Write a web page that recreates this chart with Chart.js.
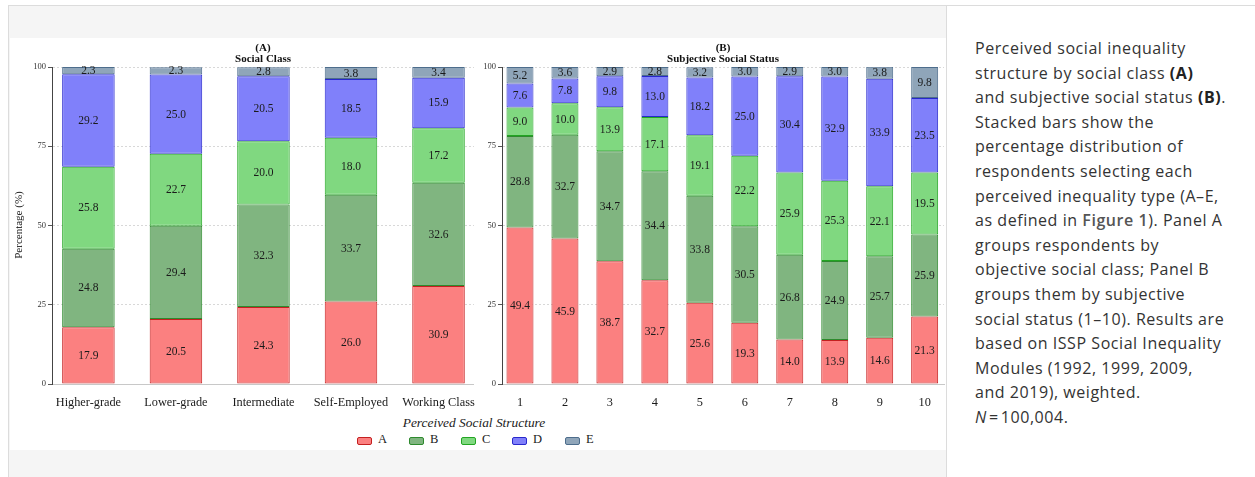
<!DOCTYPE html>
<html>
<head>
<meta charset="utf-8">
<script src="https://cdn.jsdelivr.net/npm/chart.js@4/dist/chart.umd.min.js"></script>
<style>
  html,body{margin:0;padding:0;background:#fff;width:1255px;height:477px;overflow:hidden;}
  .abs{position:absolute;}
  #frame{left:8px;top:5px;width:1247px;height:472px;border-top:1px solid #dcdcdc;border-left:1px solid #dcdcdc;box-sizing:border-box;}
  #fig{left:9px;top:6px;width:938px;height:471px;background:#f5f5f5;border-right:1px solid #dcdcdc;box-sizing:border-box;}
  #white{left:10px;top:38px;width:936px;height:412px;background:#fff;}
  .ptitle{font-family:'Liberation Serif',serif;font-weight:bold;font-size:11px;line-height:11px;text-align:center;color:#111;width:300px;}
  #ytitle{font-family:'Liberation Serif',serif;font-size:11px;color:#222;transform:rotate(-90deg);transform-origin:center center;width:120px;text-align:center;left:-42px;top:219px;}
  #ltitle{font-family:'Liberation Serif',serif;font-style:italic;font-size:13.4px;color:#222;left:324px;top:415px;width:300px;text-align:center;}
  .sw{position:absolute;width:13px;height:6px;border-radius:2px;top:437px;}
  .lt{position:absolute;font-family:'Liberation Serif',serif;font-size:12.5px;color:#222;top:432px;}
  #caption{left:975px;top:36px;width:280px;font-family:'Open Sans',sans-serif;font-size:16px;letter-spacing:0.55px;line-height:24.6px;color:#333;white-space:nowrap;}
  #caption b{font-weight:700;color:#222;}
  #caption .fig{font-weight:600;color:#555;}
</style>
</head>
<body>
<div id="frame" class="abs"></div>
<div id="fig" class="abs"></div>
<div id="white" class="abs"></div>
<canvas id="chartA" class="abs" width="468" height="372" style="left:10px;top:38px;width:468px;height:372px;"></canvas>
<canvas id="chartB" class="abs" width="468" height="372" style="left:478px;top:38px;width:468px;height:372px;"></canvas>
<div class="abs ptitle" style="left:113px;top:42px;">(A)<br>Social Class</div>
<div class="abs ptitle" style="left:573px;top:42px;">(B)<br>Subjective Social Status</div>
<div id="ytitle" class="abs">Percentage (%)</div>
<div id="ltitle" class="abs">Perceived Social Structure</div>
<div id="legend"></div>
<div id="caption" class="abs">Perceived social inequality<br>structure by social class <b>(A)</b><br>and subjective social status <b>(B)</b>.<br>Stacked bars show the<br>percentage distribution of<br>respondents selecting each<br>perceived inequality type (A–E,<br>as defined in <span class="fig">Figure 1</span>). Panel A<br>groups respondents by<br>objective social class; Panel B<br>groups them by subjective<br>social status (1–10). Results are<br>based on ISSP Social Inequality<br>Modules (1992, 1999, 2009,<br>and 2019), weighted.<br><i>N</i>&#8202;=&#8202;100,004.</div>
<script>
// ---- data ----
const seriesNames = ['A', 'B', 'C', 'D', 'E'];
const classCategories = ['Higher-grade', 'Lower-grade', 'Intermediate', 'Self-Employed', 'Working Class'];
const classA = [17.9, 20.5, 24.3, 26.0, 30.9];
const classB = [24.8, 29.4, 32.3, 33.7, 32.6];
const classC = [25.8, 22.7, 20.0, 18.0, 17.2];
const classD = [29.2, 25.0, 20.5, 18.5, 15.9];
const classE = [2.3, 2.3, 2.8, 3.8, 3.4];
const statusCategories = ['1', '2', '3', '4', '5', '6', '7', '8', '9', '10'];
const statusA = [49.4, 45.9, 38.7, 32.7, 25.6, 19.3, 14.0, 13.9, 14.6, 21.3];
const statusB = [28.8, 32.7, 34.7, 34.4, 33.8, 30.5, 26.8, 24.9, 25.7, 25.9];
const statusC = [9.0, 10.0, 13.9, 17.1, 19.1, 22.2, 25.9, 25.3, 22.1, 19.5];
const statusD = [7.6, 7.8, 9.8, 13.0, 18.2, 25.0, 30.4, 32.9, 33.9, 23.5];
const statusE = [5.2, 3.6, 2.9, 2.8, 3.2, 3.0, 2.9, 3.0, 3.8, 9.8];
const yTicks = [0, 25, 50, 75, 100];

// ---- styles ----
const fills = ['#fb8080', '#80b580', '#80d880', '#8080fa', '#8fa5b9'];
const borders = ['#c42020', '#2e8a2e', '#22a522', '#2828cc', '#4d6d8c'];
const legendX = [357, 409, 461, 512, 565];

// legend (HTML)
const lg = document.getElementById('legend');
seriesNames.forEach((n, k) => {
  const s = document.createElement('div');
  s.className = 'sw';
  s.style.left = legendX[k] + 'px';
  s.style.background = fills[k];
  s.style.border = '1px solid ' + borders[k];
  lg.appendChild(s);
  const t = document.createElement('div');
  t.className = 'lt';
  t.style.left = (legendX[k] + 21) + 'px';
  t.textContent = n;
  lg.appendChild(t);
});

const valueLabels = {
  id: 'valueLabels',
  afterDatasetsDraw(chart) {
    const ctx = chart.ctx;
    ctx.save();
    ctx.font = '11.5px "Liberation Serif", serif';
    ctx.fillStyle = '#1a1a1a';
    ctx.textAlign = 'center';
    ctx.textBaseline = 'middle';
    chart.data.datasets.forEach((ds, di) => {
      const meta = chart.getDatasetMeta(di);
      meta.data.forEach((el, i) => {
        const v = ds.data[i];
        const y = (el.y + el.base) / 2;
        ctx.fillText(v.toFixed(1), el.x, y + 0.5);
      });
    });
    ctx.restore();
  }
};

function makeChart(id, cats, series, xmin, xmax, yWidth, padRight) {
  return new Chart(document.getElementById(id), {
    type: 'bar',
    data: {
      labels: cats.map((c, i) => i + 1),
      datasets: series.map((d, k) => ({
        label: seriesNames[k],
        data: d,
        backgroundColor: fills[k],
        borderColor: borders[k],
        borderWidth: 1,
        borderSkipped: false,
        categoryPercentage: 1,
        barPercentage: 0.6
      }))
    },
    options: {
      responsive: false,
      animation: false,
      devicePixelRatio: 1,
      layout: { padding: { top: 29, right: padRight, left: 0, bottom: 0 } },
      plugins: { legend: { display: false }, tooltip: { enabled: false }, title: { display: false } },
      scales: {
        x: {
          type: 'linear',
          stacked: true,
          min: xmin,
          max: xmax,
          offset: false,
          afterBuildTicks: s => { s.ticks = cats.map((c, i) => ({ value: i + 1 })); },
          afterFit: s => { s.height = 26; },
          ticks: {
            autoSkip: false,
            maxRotation: 0,
            padding: 3,
            color: '#1a1a1a',
            font: { family: 'Liberation Serif', size: 12.3 },
            callback: v => cats[Math.round(v) - 1]
          },
          grid: { display: false },
          border: { display: true, color: '#c8c8c8', width: 1 }
        },
        y: {
          stacked: true,
          min: 0,
          max: 100,
          afterBuildTicks: s => { s.ticks = yTicks.map(v => ({ value: v })); },
          afterFit: s => { s.width = yWidth; },
          ticks: {
            padding: 2,
            color: '#333',
            font: { family: 'Liberation Serif', size: 8.5 }
          },
          grid: { color: '#d8d8d8', lineWidth: 1, tickColor: '#555', tickLength: 4, tickBorderDash: [] },
          border: { display: true, color: '#444', width: 1, dash: [2, 2] }
        }
      }
    },
    plugins: [valueLabels]
  });
}

makeChart('chartA', classCategories, [classA, classB, classC, classD, classE], 0.584, 5.405, 42, 3);
makeChart('chartB', statusCategories, [statusA, statusB, statusC, statusD, statusE], 0.6, 10.43, 24, 2);
</script>
</body>
</html>
